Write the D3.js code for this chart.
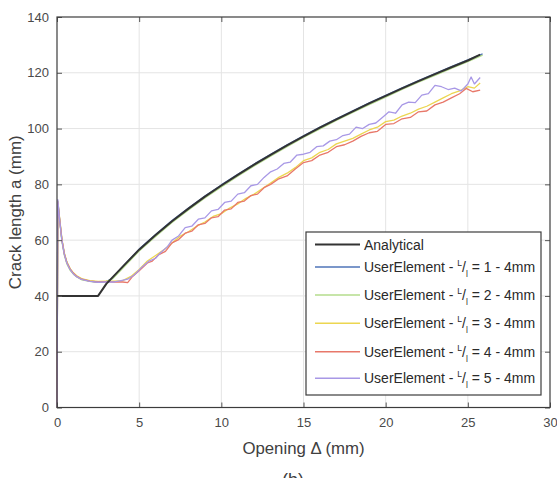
<!DOCTYPE html>
<html>
<head>
<meta charset="utf-8">
<script src="https://cdn.jsdelivr.net/npm/d3@7"></script>
<style>
  body { margin: 0; background: #fff; }
  svg { font-family: "Liberation Sans", Arial, sans-serif; }
</style>
</head>
<body>
<svg id="chart" width="557" height="478"></svg>
<script>
// axis ticks
const xTicks = [0, 5, 10, 15, 20, 25, 30];
const yTicks = [0, 20, 40, 60, 80, 100, 120, 140];

// analytical solution
const dAna = [0, 2.5, 3, 4, 5, 6, 7, 8, 9, 10, 11, 12, 13, 14, 15, 16, 17, 18, 19, 20, 21, 22, 23, 24, 25, 25.75];
const aAna = [40, 40, 44.3, 50.5, 56.6, 61.8, 66.8, 71.3, 75.6, 79.6, 83.4, 87.1, 90.6, 94, 97.2, 100.3, 103.3, 106.2, 109, 111.7, 114.4, 117, 119.5, 122, 124.4, 126.5];

// UserElement 1 (blue)
const dUE1 = [0, 0.05, 0.15, 0.3, 0.45, 0.6, 0.8, 1.0, 1.2, 1.5, 2.0, 2.5, 3.0, 3.3, 4, 5, 6, 7, 8, 9, 10, 11, 12, 13, 14, 15, 16, 17, 18, 19, 20, 21, 22, 23, 24, 25, 25.9];
const aUE1 = [0, 74, 68, 60, 55, 52, 49.5, 48, 47, 46, 45.3, 45, 45.2, 46, 50.5, 56.8, 62, 67, 71.5, 75.8, 79.8, 83.6, 87.3, 90.8, 94.2, 97.4, 100.5, 103.5, 106.4, 109.2, 111.9, 114.6, 117.2, 119.7, 122.2, 124.6, 126.8];

// UserElement 2 (green)
const dUE2 = [0, 0.05, 0.15, 0.3, 0.45, 0.6, 0.8, 1.0, 1.2, 1.5, 2.0, 2.5, 3.0, 3.4, 4, 5, 6, 7, 8, 9, 10, 11, 12, 13, 14, 15, 16, 17, 18, 19, 20, 21, 22, 23, 24, 25, 25.9];
const aUE2 = [0, 73, 67.5, 59.5, 54.5, 51.5, 49.2, 47.8, 46.8, 45.8, 45.2, 44.9, 45.1, 46.2, 49.9, 56.1, 61.3, 66.3, 70.8, 75.1, 79.1, 82.9, 86.6, 90.1, 93.5, 96.8, 99.9, 102.9, 105.8, 108.6, 111.3, 114, 116.6, 119.1, 121.6, 124, 126.3];

// UserElement 3 (yellow)
const dUE3 = [0, 0.05, 0.15, 0.3, 0.45, 0.6, 0.8, 1.0, 1.2, 1.5, 2.0, 2.5, 3.0, 3.5, 4, 4.5, 5, 5.5, 6, 6.5, 7, 7.5, 8, 8.5, 9, 9.5, 10, 10.5, 11, 11.5, 12, 12.5, 13, 13.5, 14, 14.5, 15, 15.5, 16, 16.5, 17, 17.5, 18, 18.5, 19, 19.5, 20, 20.5, 21, 21.5, 22, 22.5, 23, 23.5, 24, 24.5, 25, 25.4, 25.75];
const aUE3 = [0, 74, 68.5, 60.5, 55.3, 52.2, 49.8, 48.3, 47.2, 46.2, 45.5, 45.2, 45.3, 45.3, 45.5, 47, 49.5, 52.5, 54.5, 56.5, 59, 61.5, 63, 65, 66.5, 68.5, 69.5, 71.5, 73, 75, 76.5, 78.5, 80.5, 82.5, 84, 86, 88.5, 89.5, 91.5, 92.5, 94.5, 95.5, 96.5, 98, 99.5, 100.5, 102.5, 103, 104.5, 105.5, 107, 108, 109.5, 111, 112.5, 113.5, 115, 114.5, 116.3];

// UserElement 4 (red)
const dUE4 = [0, 0.05, 0.15, 0.3, 0.45, 0.6, 0.8, 1.0, 1.2, 1.5, 2.0, 2.5, 3.0, 3.5, 4, 4.3, 4.6, 5, 5.5, 5.8, 6.2, 6.6, 7, 7.4, 7.8, 8.2, 8.6, 9, 9.4, 9.8, 10.2, 10.6, 11, 11.4, 11.8, 12.2, 12.6, 13, 13.5, 14, 14.5, 15, 15.5, 16, 16.5, 17, 17.5, 18, 18.5, 19, 19.5, 20, 20.5, 21, 21.5, 22, 22.5, 23, 23.5, 24, 24.5, 24.9, 25.3, 25.75];
const aUE4 = [0, 73.5, 68, 60, 55, 52, 49.6, 48.1, 47, 46, 45.3, 45, 45.1, 45, 45, 44.8, 47, 49, 51.8, 52.5, 54.8, 56, 59, 60.2, 62.5, 63.2, 65.5, 66, 68, 68.4, 70.8, 71.2, 73.5, 74, 76, 76.5, 78.8, 80, 82, 83, 85.5, 87.8, 88.5, 90.5, 91.5, 93.5, 94.2, 95.5, 97.2, 98.5, 99, 101.5, 101.8, 103.5, 104, 106, 106.3, 108.5, 109.5, 111, 112.5, 114.4, 113.2, 113.8];

// UserElement 5 (purple)
const dUE5 = [0, 0.05, 0.15, 0.3, 0.45, 0.6, 0.8, 1.0, 1.2, 1.5, 2.0, 2.5, 3.0, 3.5, 3.9, 4.3, 4.7, 5.2, 5.6, 6, 6.3, 6.7, 7, 7.4, 7.8, 8.2, 8.6, 9, 9.4, 9.8, 10.2, 10.6, 11, 11.4, 11.8, 12.2, 12.6, 13, 13.4, 13.8, 14.2, 14.6, 15, 15.4, 15.8, 16.2, 16.6, 17, 17.4, 17.8, 18.2, 18.6, 19, 19.4, 19.8, 20.2, 20.6, 21, 21.4, 21.8, 22.2, 22.6, 23, 23.4, 23.8, 24.2, 24.6, 25, 25.2, 25.4, 25.75];
const aUE5 = [0, 74.5, 67.8, 59.8, 54.8, 51.8, 49.4, 47.9, 46.9, 45.9, 45.2, 44.9, 45, 45, 45.5, 46, 47.5, 50.5, 52.5, 53.5, 55.5, 57.5, 60, 61.5, 64.5, 65, 67.5, 68, 70.5, 71, 73.5, 74, 76.5, 77, 79.5, 80, 82.5, 84.5, 85.5, 87.5, 88, 90.5, 90.8, 91.5, 93.5, 93.8, 95.5, 96, 97.5, 98, 100.5, 100, 101.5, 102, 104, 106, 105.5, 108.5, 109.5, 109.3, 112, 112.5, 115.5, 115, 114, 114.5, 113.5, 116, 118.5, 116, 118.3];

const seriesNames = ["Analytical", "UserElement - 1", "UserElement - 2", "UserElement - 3", "UserElement - 4", "UserElement - 5"];
const seriesColors = ["#333333", "#4f74b8", "#b4dc8c", "#ecd650", "#e8786a", "#a898e6"];

const series = [
  { x: dAna, y: aAna }, { x: dUE1, y: aUE1 }, { x: dUE2, y: aUE2 },
  { x: dUE3, y: aUE3 }, { x: dUE4, y: aUE4 }, { x: dUE5, y: aUE5 }
].map((s, i) => ({
  name: seriesNames[i],
  color: seriesColors[i],
  pts: s.x.map((d, j) => [d, s.y[j]])
}));

const svg = d3.select("#chart");
const x = d3.scaleLinear().domain([0, 30]).range([57, 550]);
const y = d3.scaleLinear().domain([0, 140]).range([407.5, 17]);

// grid
svg.append("g").selectAll("line").data(xTicks.slice(1, -1)).join("line")
  .attr("x1", d => x(d)).attr("x2", d => x(d))
  .attr("y1", y(0)).attr("y2", y(140))
  .attr("stroke", "#e4e4e4").attr("stroke-width", 1);
svg.append("g").selectAll("line").data(yTicks.slice(1, -1)).join("line")
  .attr("x1", x(0)).attr("x2", x(30))
  .attr("y1", d => y(d)).attr("y2", d => y(d))
  .attr("stroke", "#e4e4e4").attr("stroke-width", 1);

// curves (user elements first, analytical on top)
const line = d3.line().x(d => x(d[0])).y(d => y(d[1]));
const drawOrder = [1, 2, 3, 4, 5, 0];
svg.append("g").selectAll("path").data(drawOrder.map(i => series[i])).join("path")
  .attr("d", d => line(d.pts))
  .attr("fill", "none")
  .attr("stroke", d => d.color)
  .attr("stroke-width", d => d.name === "Analytical" ? 2 : 1.3)
  .attr("stroke-linejoin", "round");

// axes (MATLAB style: inward ticks, full box)
const tickCol = "#555";
svg.append("g").attr("transform", `translate(0,${y(0)})`)
  .call(d3.axisBottom(x).tickValues(xTicks).tickSize(-5).tickPadding(10))
  .call(g => { g.select(".domain").remove(); g.selectAll("line").attr("stroke", tickCol); });
svg.append("g").attr("transform", `translate(0,${y(140)})`)
  .call(d3.axisTop(x).tickValues(xTicks).tickSize(-5).tickFormat(""))
  .call(g => { g.select(".domain").remove(); g.selectAll("line").attr("stroke", tickCol); });
svg.append("g").attr("transform", `translate(${x(0)},0)`)
  .call(d3.axisLeft(y).tickValues(yTicks).tickSize(-5).tickPadding(8))
  .call(g => { g.select(".domain").remove(); g.selectAll("line").attr("stroke", tickCol); });
svg.append("g").attr("transform", `translate(${x(30)},0)`)
  .call(d3.axisRight(y).tickValues(yTicks).tickSize(-5).tickFormat(""))
  .call(g => { g.select(".domain").remove(); g.selectAll("line").attr("stroke", tickCol); });

svg.selectAll(".tick text")
  .attr("font-family", "Liberation Sans, Arial, sans-serif")
  .attr("font-size", 13)
  .attr("fill", "#4a4a4a");

svg.append("rect")
  .attr("x", x(0)).attr("y", y(140))
  .attr("width", x(30) - x(0)).attr("height", y(0) - y(140))
  .attr("fill", "none").attr("stroke", "#3c3c3c").attr("stroke-width", 1.2);

// axis labels
svg.append("text")
  .attr("x", 303.5).attr("y", 454)
  .attr("text-anchor", "middle").attr("font-size", 16.8).attr("fill", "#404040")
  .text("Opening Δ (mm)");
svg.append("text")
  .attr("transform", `translate(21,${(y(0) + y(140)) / 2}) rotate(-90)`)
  .attr("text-anchor", "middle").attr("font-size", 17).attr("fill", "#404040")
  .text("Crack length a (mm)");
svg.append("text")
  .attr("x", 293).attr("y", 486)
  .attr("text-anchor", "middle").attr("font-size", 18).attr("fill", "#404040")
  .text("(b)");

// legend
const lg = svg.append("g");
lg.append("rect")
  .attr("x", 306).attr("y", 232).attr("width", 235).attr("height", 163)
  .attr("fill", "#fff").attr("stroke", "#3c3c3c").attr("stroke-width", 1.2);
const rowY = [244.5, 267, 295, 323.3, 351.7, 378.3];
series.forEach((s, i) => {
  lg.append("line")
    .attr("x1", 315).attr("x2", 360).attr("y1", rowY[i]).attr("y2", rowY[i])
    .attr("stroke", s.color).attr("stroke-width", i === 0 ? 1.8 : 1.5);
  const t = lg.append("text")
    .attr("x", 364).attr("y", rowY[i] + 5)
    .attr("font-size", 14).attr("fill", "#2a2a2a");
  if (i === 0) {
    t.text("Analytical");
  } else {
    t.append("tspan").text("UserElement - ");
    t.append("tspan").attr("font-size", 8.5).attr("dy", -6).text("L");
    t.append("tspan").attr("dy", 6).text("/");
    t.append("tspan").attr("font-size", 8.5).attr("dy", 5).text("l");
    t.append("tspan").attr("dy", -5).text(` = ${i} - 4mm`);
  }
});
</script>
</body>
</html>
